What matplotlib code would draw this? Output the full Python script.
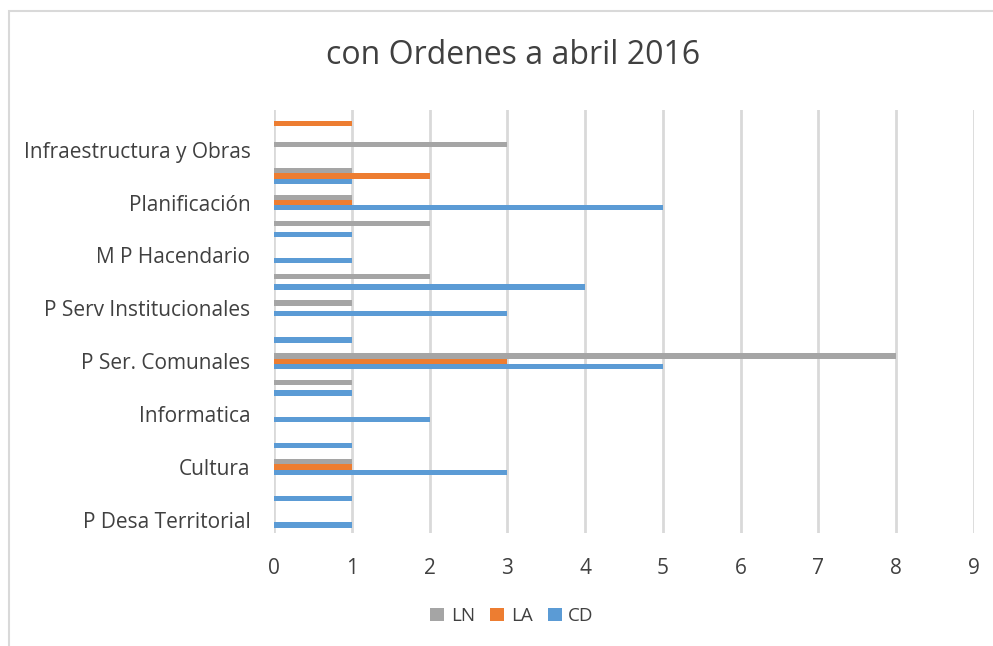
import numpy as np
import matplotlib
matplotlib.use("Agg")
import matplotlib.pyplot as plt
from matplotlib.patches import Rectangle

# categories bottom -> top; Excel hides every other label
categories = [
    "P Desa Territorial", "", "Cultura", "", "Informatica", "",
    "P Ser. Comunales", "", "P Serv Institucionales", "", "M P Hacendario", "",
    "Planificación", "", "Infraestructura y Obras", "",
]
cd = [1, 1, 3, 1, 2, 1, 5, 1, 3, 4, 1, 1, 5, 1, 0, 0]
la = [0, 0, 1, 0, 0, 0, 3, 0, 0, 0, 0, 0, 1, 2, 0, 1]
ln = [0, 0, 1, 0, 0, 1, 8, 0, 1, 2, 0, 2, 1, 1, 3, 0]
x_ticks = list(range(0, 10))

plt.rcParams["font.family"] = ["Open Sans", "DejaVu Sans"]

fig = plt.figure(figsize=(9.93, 6.46), dpi=100, facecolor="white")
ax = fig.add_axes([274 / 993, 1 - 533 / 646, 700 / 993, 423 / 646])

y = np.arange(len(categories))
h = 0.2
ax.barh(y - h, cd, height=h, color="#5b9bd5", label="CD", zorder=3)
ax.barh(y, la, height=h, color="#ed7d31", label="LA", zorder=3)
ax.barh(y + h, ln, height=h, color="#a5a5a5", label="LN", zorder=3)

ax.set_xlim(0, 9)
ax.set_ylim(-0.5, len(categories) - 0.5)
ax.set_xticks(x_ticks)
ax.set_xticklabels([str(v) for v in x_ticks])
shown = [i for i, c in enumerate(categories) if c]
ax.set_yticks(shown)
ax.set_yticklabels([categories[i] for i in shown])

ax.grid(axis="x", color="#d9d9d9", lw=2, zorder=0)
ax.set_axisbelow(True)
for s in ax.spines.values():
    s.set_visible(False)
ax.tick_params(axis="both", length=0, labelsize=15, colors="#404040")
ax.tick_params(axis="x", pad=18)
ax.tick_params(axis="y", pad=17)

fig.text(513 / 993, 1 - 55 / 646, "con Ordenes a abril 2016", ha="center", va="center",
         fontsize=23, color="#404040")

handles, labels = ax.get_legend_handles_labels()
order = [2, 1, 0]
fig.legend([handles[i] for i in order], [labels[i] for i in order],
           loc="center", bbox_to_anchor=(512 / 993, 1 - 616 / 646), ncol=3,
           frameon=False, fontsize=13.5, handlelength=0.75, handleheight=0.75,
           handletextpad=0.35, columnspacing=0.8, labelcolor="#404040")

# chart area border (top and left visible)
fig.patches.append(Rectangle((9 / 993, -0.05), 1.1, 1 - 11 / 646 + 0.05,
                             transform=fig.transFigure, fill=False,
                             edgecolor="#d9d9d9", lw=1.5))

fig.savefig("out.png", dpi=100, facecolor="white")
